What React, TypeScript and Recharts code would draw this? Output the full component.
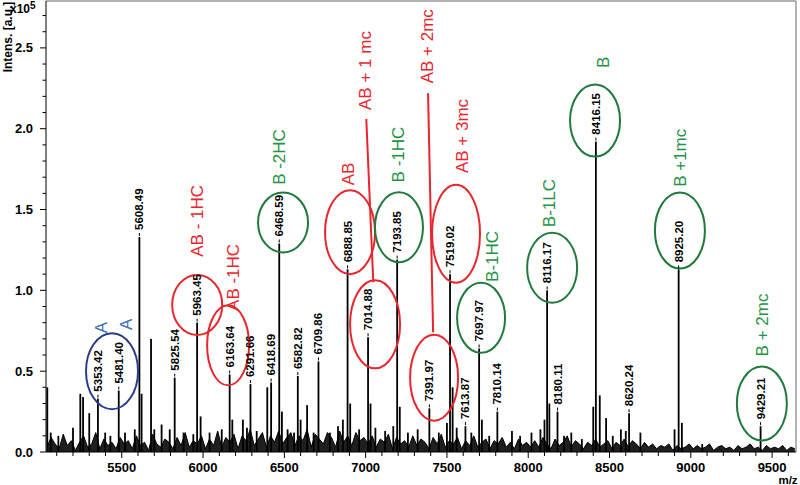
import React from 'react';
import { ComposedChart, Bar, Area, XAxis, YAxis, ReferenceDot, ReferenceLine, LabelList } from 'recharts';

// ---- spectrum peaks (m/z, intensity x10^5, printed label) ----
const peakMz = [
  5042, 5063, 5110, 5200, 5245, 5262, 5300, 5353.42, 5398, 5430, 5481.40, 5520, 5580,
  5608.49, 5622, 5680, 5700, 5745, 5795, 5825.54, 5880, 5940, 5963.45, 5985, 6040, 6115,
  6163.64, 6180, 6245, 6270, 6291.66, 6330, 6395, 6418.69, 6468.59, 6485, 6520, 6560,
  6582.82, 6600, 6640, 6680, 6709.86, 6780, 6830, 6860, 6888.85, 6905, 6960, 7014.88,
  7030, 7060, 7120, 7170, 7193.85, 7210, 7260, 7320, 7391.97, 7450, 7500, 7519.02, 7535,
  7560, 7613.87, 7650, 7697.97, 7715, 7760, 7810.14, 7900, 7950, 8020, 8075, 8100,
  8116.17, 8130, 8180.11, 8220, 8265, 8330, 8400, 8416.15, 8440, 8479, 8520, 8570, 8600,
  8620.24, 8690, 8900, 8925.20, 8945, 9070, 9429.21,
];
const peakIntensity = [
  0.40, 0.12, 0.10, 0.15, 0.36, 0.34, 0.24, 0.33, 0.12, 0.10, 0.38, 0.12, 0.14,
  1.33, 0.36, 0.70, 0.14, 0.17, 0.14, 0.46, 0.12, 0.11, 0.80, 0.22, 0.12, 0.14,
  0.48, 0.20, 0.20, 0.15, 0.42, 0.13, 0.40, 0.43, 1.29, 0.25, 0.14, 0.12,
  0.47, 0.20, 0.29, 0.12, 0.56, 0.12, 0.16, 0.20, 1.13, 0.30, 0.14, 0.71,
  0.30, 0.15, 0.13, 0.16, 1.19, 0.28, 0.12, 0.14, 0.27, 0.12, 0.18, 1.10, 0.40,
  0.15, 0.16, 0.12, 0.64, 0.20, 0.10, 0.25, 0.13, 0.10, 0.12, 0.14, 0.20,
  1.00, 0.30, 0.25, 0.10, 0.12, 0.08, 0.28, 1.92, 0.35, 0.21, 0.10, 0.14, 0.13,
  0.24, 0.12, 0.14, 1.13, 0.18, 0.05, 0.16,
];
const peakLabel = [
  '', '', '', '', '', '', '', '5353.42', '', '', '5481.40', '', '',
  '5608.49', '', '', '', '', '', '5825.54', '', '', '5963.45', '', '', '',
  '6163.64', '', '', '', '6291.66', '', '', '6418.69', '6468.59', '', '', '',
  '6582.82', '', '', '', '6709.86', '', '', '', '6888.85', '', '', '7014.88',
  '', '', '', '', '7193.85', '', '', '', '7391.97', '', '', '7519.02', '',
  '', '7613.87', '', '7697.97', '', '', '7810.14', '', '', '', '', '',
  '8116.17', '', '8180.11', '', '', '', '', '8416.15', '', '', '', '', '',
  '8620.24', '', '', '8925.20', '', '', '9429.21',
];

// ---- baseline noise, sampled every 25 Da from 5040 ----
const noiseStart = 5040;
const noiseStep = 25;
const noiseIntensity = [
  0.03, 0.09, 0.05, 0.02, 0.11, 0.04, 0.07, 0.01, 0.06, 0.10, 0.03, 0.05, 0.12, 0.02, 0.08, 0.04, 0.06, 0.02, 0.09, 0.05,
  0.07, 0.02, 0.10, 0.04, 0.06, 0.01, 0.11, 0.05, 0.03, 0.08, 0.06, 0.02, 0.09, 0.04, 0.12, 0.03, 0.07, 0.05, 0.10, 0.02,
  0.08, 0.04, 0.13, 0.03, 0.09, 0.06, 0.11, 0.02, 0.10, 0.07, 0.14, 0.04, 0.08, 0.12, 0.03, 0.10, 0.06, 0.13, 0.05, 0.09,
  0.12, 0.04, 0.10, 0.07, 0.14, 0.03, 0.11, 0.08, 0.05, 0.12, 0.09, 0.03, 0.13, 0.06, 0.10, 0.04, 0.12, 0.07, 0.09, 0.05,
  0.10, 0.03, 0.08, 0.06, 0.11, 0.02, 0.09, 0.05, 0.07, 0.03, 0.10, 0.04, 0.08, 0.06, 0.02, 0.09, 0.05, 0.11, 0.03, 0.07,
  0.05, 0.09, 0.02, 0.07, 0.04, 0.10, 0.03, 0.06, 0.08, 0.02, 0.07, 0.05, 0.09, 0.03, 0.06, 0.02, 0.08, 0.04, 0.06, 0.03,
  0.07, 0.03, 0.09, 0.05, 0.02, 0.08, 0.04, 0.06, 0.10, 0.03, 0.07, 0.05, 0.02, 0.06, 0.04, 0.08, 0.03, 0.05, 0.07, 0.02,
  0.06, 0.04, 0.08, 0.03, 0.07, 0.05, 0.02, 0.06, 0.03, 0.05, 0.02, 0.04, 0.03, 0.05, 0.01, 0.04, 0.02, 0.03, 0.05, 0.02,
  0.04, 0.02, 0.03, 0.05, 0.01, 0.03, 0.04, 0.02, 0.03, 0.01, 0.04, 0.02, 0.03, 0.05, 0.02, 0.03, 0.01, 0.04, 0.02, 0.03,
  0.02, 0.04, 0.01, 0.03, 0.02,
];

// ---- axes ----
const xDomain = [5034, 9647];
const yDomain = [0, 2.79];
const xTicks = [
  5100, 5200, 5300, 5400, 5500, 5600, 5700, 5800, 5900, 6000, 6100, 6200, 6300, 6400, 6500,
  6600, 6700, 6800, 6900, 7000, 7100, 7200, 7300, 7400, 7500, 7600, 7700, 7800, 7900, 8000,
  8100, 8200, 8300, 8400, 8500, 8600, 8700, 8800, 8900, 9000, 9100, 9200, 9300, 9400, 9500, 9600,
];
const yTicks = [
  0, 0.1, 0.2, 0.3, 0.4, 0.5, 0.6, 0.7, 0.8, 0.9, 1.0, 1.1, 1.2, 1.3, 1.4,
  1.5, 1.6, 1.7, 1.8, 1.9, 2.0, 2.1, 2.2, 2.3, 2.4, 2.5, 2.6, 2.7,
];

// ---- annotations (in data coordinates) ----
const ovalMz = [5440, 5964, 6154, 6492, 6904, 7058, 7205, 7421, 7556, 7710, 8147, 8411, 8933, 9437];
const ovalIntensity = [0.50, 0.91, 0.66, 1.42, 1.36, 0.79, 1.39, 0.46, 1.35, 0.83, 1.14, 2.05, 1.37, 0.30];
const ovalGroup = ['A', 'AB', 'AB', 'B', 'AB', 'AB', 'B', 'AB', 'AB', 'B', 'B', 'B', 'B', 'B'];

const tagText = ['A', 'A', 'AB - 1HC', 'AB -1HC', 'B -2HC', 'AB', 'AB + 1 mc', 'B -1HC', 'AB + 2mc', 'AB + 3mc', 'B-1HC', 'B-1LC', 'B', 'B +1mc', 'B + 2mc'];
const tagMz = [5373, 5526, 5963, 6185, 6467, 6892, 6996, 7199, 7378, 7593, 7777, 8128, 8460, 8933, 9437];
const tagIntensity = [0.77, 0.79, 1.43, 1.08, 1.825, 1.72, 2.36, 1.84, 2.51, 1.955, 1.21, 1.54, 2.41, 1.82, 0.786];
const tagGroup = ['A', 'A', 'AB', 'AB', 'B', 'AB', 'AB', 'B', 'AB', 'AB', 'B', 'B', 'B', 'B', 'B'];

const connectorFrom = [[7004, 2.06], [7384, 2.22]];
const connectorTo = [[7047, 1.05], [7415, 0.74]];

// ---- styles ----
const ovalRx = [26, 25, 21, 25, 25, 25, 24, 24, 24, 24, 25, 25, 25, 25];
const ovalRy = [38, 30, 40, 30, 42, 44, 35, 43, 49, 35, 35, 36, 38, 37];
const ovalColor: Record<string, string> = { A: '#2a3b8f', AB: '#e8262d', B: '#1f7a3c' };
const tagColor: Record<string, string> = { A: '#3b6fb6', AB: '#e8262d', B: '#1f9444' };
const FONT = '"Liberation Sans", Arial, sans-serif';
const FRAME = '#9a9a9a';

const peakRows = peakMz.map((mz, i) => ({ mz, intensity: peakIntensity[i], label: peakLabel[i] }));
const noiseRows = noiseIntensity.map((v, i) => ({ mz: noiseStart + i * noiseStep, noise: v }));

const isMajor = (v: number, step: number) => Math.abs(v / step - Math.round(v / step)) < 1e-6;

const YTick = (props: any) => {
  const x = Number(props.x);
  const y = Number(props.y);
  const v = props.payload.value;
  const major = isMajor(v, 0.5);
  return (
    <g>
      <line x1={x} x2={x - (major ? 6 : 3.5)} y1={y} y2={y} stroke="#000" strokeWidth={1} />
      {major && (
        <text x={x - 13} y={y} dy="0.35em" textAnchor="end" fontSize={13} fontWeight="bold" fill="#000" fontFamily={FONT}>
          {v.toFixed(1)}
        </text>
      )}
    </g>
  );
};

const XTick = (props: any) => {
  const x = Number(props.x);
  const y = Number(props.y);
  const v = props.payload.value;
  const major = isMajor(v, 500);
  return (
    <g>
      <line x1={x} x2={x} y1={y} y2={y + (major ? 6 : 4)} stroke="#000" strokeWidth={1} />
      {major && (
        <text x={x} y={y + 20} textAnchor="middle" fontSize={13} fontWeight="bold" fill="#000" fontFamily={FONT}>
          {v}
        </text>
      )}
    </g>
  );
};

const Stick = (p: any) => {
  const cx = Number(p.x) + Number(p.width) / 2;
  const h = Number(p.height);
  if (!(h > 0)) return null;
  return <rect x={cx - 0.9} y={Number(p.y)} width={1.8} height={h} fill="#000" />;
};

const PeakLabel = (props: any) => {
  const { value } = props;
  if (!value) return null;
  const cx = Number(props.x) + Number(props.width) / 2;
  const top = Number(props.y);
  const ty = top - 7;
  return (
    <g>
      <line x1={cx} x2={cx} y1={top - 1} y2={top - 4} stroke="#000" strokeWidth={1} />
      <text
        x={cx}
        y={ty}
        transform={`rotate(-90 ${cx} ${ty})`}
        dy="0.35em"
        textAnchor="start"
        fontSize={11.5}
        fontWeight="bold"
        fill="#000"
        fontFamily={FONT}
      >
        {value}
      </text>
    </g>
  );
};

const yTitle = (p: any) => {
  const vb = p.viewBox || { x: 0, y: 1 };
  const tx = vb.x + 8;
  const ty = vb.y + 36;
  return (
    <g>
      <text x={tx} y={ty} transform={`rotate(-90 ${tx} ${ty})`} dy="0.35em" textAnchor="middle" fontSize={12} fontWeight="bold" fill="#000" fontFamily={FONT}>
        Intens. [a.u.]
      </text>
      <text x={vb.x + 10} y={vb.y + 12} fontSize={12} fontWeight="bold" fill="#000" fontFamily={FONT}>
        x10
        <tspan dy={-4} fontSize={10}>5</tspan>
      </text>
    </g>
  );
};

const xTitle = (p: any) => {
  const vb = p.viewBox || { x: 46, y: 452, width: 750 };
  return (
    <text x={vb.x + vb.width - 8} y={vb.y + 31.5} textAnchor="middle" fontSize={11.5} fontWeight="bold" fill="#000" fontFamily={FONT}>
      m/z
    </text>
  );
};

export default function App() {
  return (
    <div style={{ position: 'absolute', left: 0, top: 0, width: 800, height: 485, background: '#fff' }}>
      <ComposedChart width={800} height={485} data={peakRows} margin={{ top: 1, right: 4, bottom: 0, left: 0 }}>
        <XAxis
          dataKey="mz"
          type="number"
          domain={xDomain}
          allowDataOverflow
          ticks={xTicks}
          interval={0}
          tickSize={0}
          tickMargin={0}
          tickLine={false}
          tick={<XTick />}
          height={33}
          axisLine={{ stroke: '#000', strokeWidth: 1 }}
          label={xTitle}
        />
        <YAxis
          type="number"
          domain={yDomain}
          allowDataOverflow
          ticks={yTicks}
          interval={0}
          tickSize={0}
          tickMargin={0}
          tickLine={false}
          tick={<YTick />}
          width={46}
          axisLine={{ stroke: '#000', strokeWidth: 1 }}
          label={yTitle}
        />
        <ReferenceLine y={yDomain[1]} stroke={FRAME} strokeWidth={1.5} ifOverflow="visible" />
        <ReferenceLine x={xDomain[1]} stroke={FRAME} strokeWidth={1.5} ifOverflow="visible" />
        <Area
          data={noiseRows}
          dataKey="noise"
          type="linear"
          stroke="#000"
          strokeWidth={1}
          fill="#000"
          fillOpacity={0.88}
          isAnimationActive={false}
          dot={false}
          activeDot={false}
        />
        <Bar dataKey="intensity" barSize={2} fill="#000" shape={<Stick />} isAnimationActive={false}>
          <LabelList dataKey="label" content={<PeakLabel />} />
        </Bar>
        {connectorFrom.map((f, i) => (
          <ReferenceLine
            key={`c${i}`}
            segment={[{ x: f[0], y: f[1] }, { x: connectorTo[i][0], y: connectorTo[i][1] }]}
            stroke="#e8262d"
            strokeWidth={2}
            ifOverflow="visible"
          />
        ))}
        {ovalMz.map((mz, i) => (
          <ReferenceDot
            key={`o${i}`}
            x={mz}
            y={ovalIntensity[i]}
            ifOverflow="visible"
            shape={(p: any) => (
              <ellipse cx={p.cx} cy={p.cy} rx={ovalRx[i]} ry={ovalRy[i]} fill="none" stroke={ovalColor[ovalGroup[i]]} strokeWidth={2} />
            )}
          />
        ))}
        {tagMz.map((mz, i) => (
          <ReferenceDot
            key={`t${i}`}
            x={mz}
            y={tagIntensity[i]}
            ifOverflow="visible"
            shape={(p: any) => (
              <text
                x={p.cx}
                y={p.cy}
                transform={`rotate(-90 ${p.cx} ${p.cy})`}
                dy="0.35em"
                textAnchor="middle"
                fontSize={17}
                fill={tagColor[tagGroup[i]]}
                fontFamily={FONT}
              >
                {tagText[i]}
              </text>
            )}
          />
        ))}
      </ComposedChart>
    </div>
  );
}
